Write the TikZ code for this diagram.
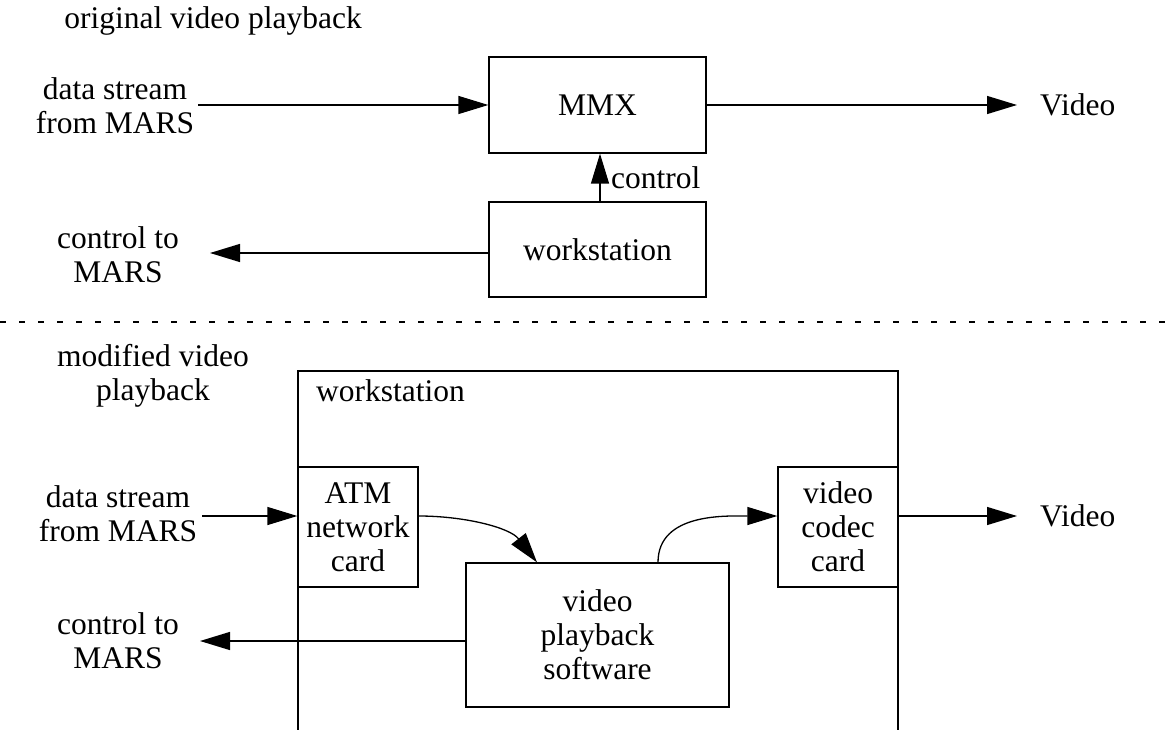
\documentclass[tikz,border=0pt]{standalone}
\usepackage{fontspec}
\setmainfont{Liberation Serif}
\usetikzlibrary{arrows.meta,calc}
\begin{document}
\begin{tikzpicture}[x=1pt,y=1pt,
  every node/.style={font=\fontsize{31.5}{34}\selectfont},
  blk/.style={draw,line width=1.3pt,minimum width=#1,inner sep=0pt},
  txt/.style={align=center,inner sep=0pt},
  conn/.style={line width=1.3pt,-{Triangle[length=30pt,width=18pt]}},
  sep/.style={line width=1.2pt,dash pattern=on 6pt off 13pt}]
\useasboundingbox (0,0) rectangle (1165,-730);

% ---- original video playback ----
\node[txt] (title1) at (213,-21) {original video playback};
\node[blk=217pt,minimum height=96pt] (mmx) at (597.5,-105) {MMX};
\node[blk=217pt,minimum height=95pt] (ws1) at (597.5,-249.5) {workstation};
\node[txt] (ds1) at (115,-106) {data stream\\from MARS};
\node[txt,anchor=west] (vid1) at (1040,-105) {Video};
\node[txt] (ctl1) at (118,-255) {control to\\MARS};
\coordinate (vid1tip) at (1017,-105);
\coordinate (ctl1tip) at (210,-253);
\coordinate (ds1out) at ([xshift=4pt]ds1.east |- mmx.west);

\draw[conn] (ds1out) -- (mmx.west);
\draw[conn] (mmx.east) -- (vid1tip);
\draw[conn] ([xshift=2.5pt]ws1.north) -- ([xshift=2.5pt]mmx.south);
\node[txt,anchor=west] (ctllab) at (611,-178) {control};
\draw[conn] (ws1.west |- ctl1tip) -- (ctl1tip);

% ---- separator ----
\draw[sep] (0,-322) -- (1165,-322);

% ---- modified video playback ----
\node[txt] (title2) at (153,-376) {modified video\\playback};
\draw[line width=1.3pt] (298,-730) -- (298,-371) -- (898,-371) -- (898,-730);
\node[txt,anchor=base west] (wslab) at (316,-401) {workstation};

\node[blk=120pt,minimum height=120pt,txt,draw] (atm) at (358,-527) {ATM\\network\\card};
\node[blk=120pt,minimum height=120pt,txt,draw] (codec) at (838,-527) {video\\codec\\card};
\node[blk=263pt,minimum height=144pt,txt,draw] (play) at (597.5,-635) {video\\playback\\software};

\node[txt] (ds2) at (118,-514) {data stream\\from MARS};
\node[txt,anchor=west] (vid2) at (1040,-516) {Video};
\node[txt] (ctl2) at (118,-641) {control to\\MARS};
\coordinate (vid2tip) at (1017,-516);
\coordinate (ctl2tip) at (200,-641);
\coordinate (atmin) at ([yshift=11pt]atm.west);
\coordinate (ds2out) at ([xshift=5pt]ds2.east |- atmin);

\draw[conn] (ds2out) -- (atmin);
\draw[conn] ([yshift=11pt]atm.east) to[out=0,in=128,looseness=0.9] ([xshift=-60.5pt]play.north);
\draw[conn] ([xshift=60.5pt]play.north) to[out=90,in=180] ([yshift=11pt]codec.west);
\draw[conn] ([yshift=11pt]codec.east) -- (vid2tip);
\draw[conn] ([yshift=-6pt]play.west) -- (ctl2tip);
\end{tikzpicture}
\end{document}
